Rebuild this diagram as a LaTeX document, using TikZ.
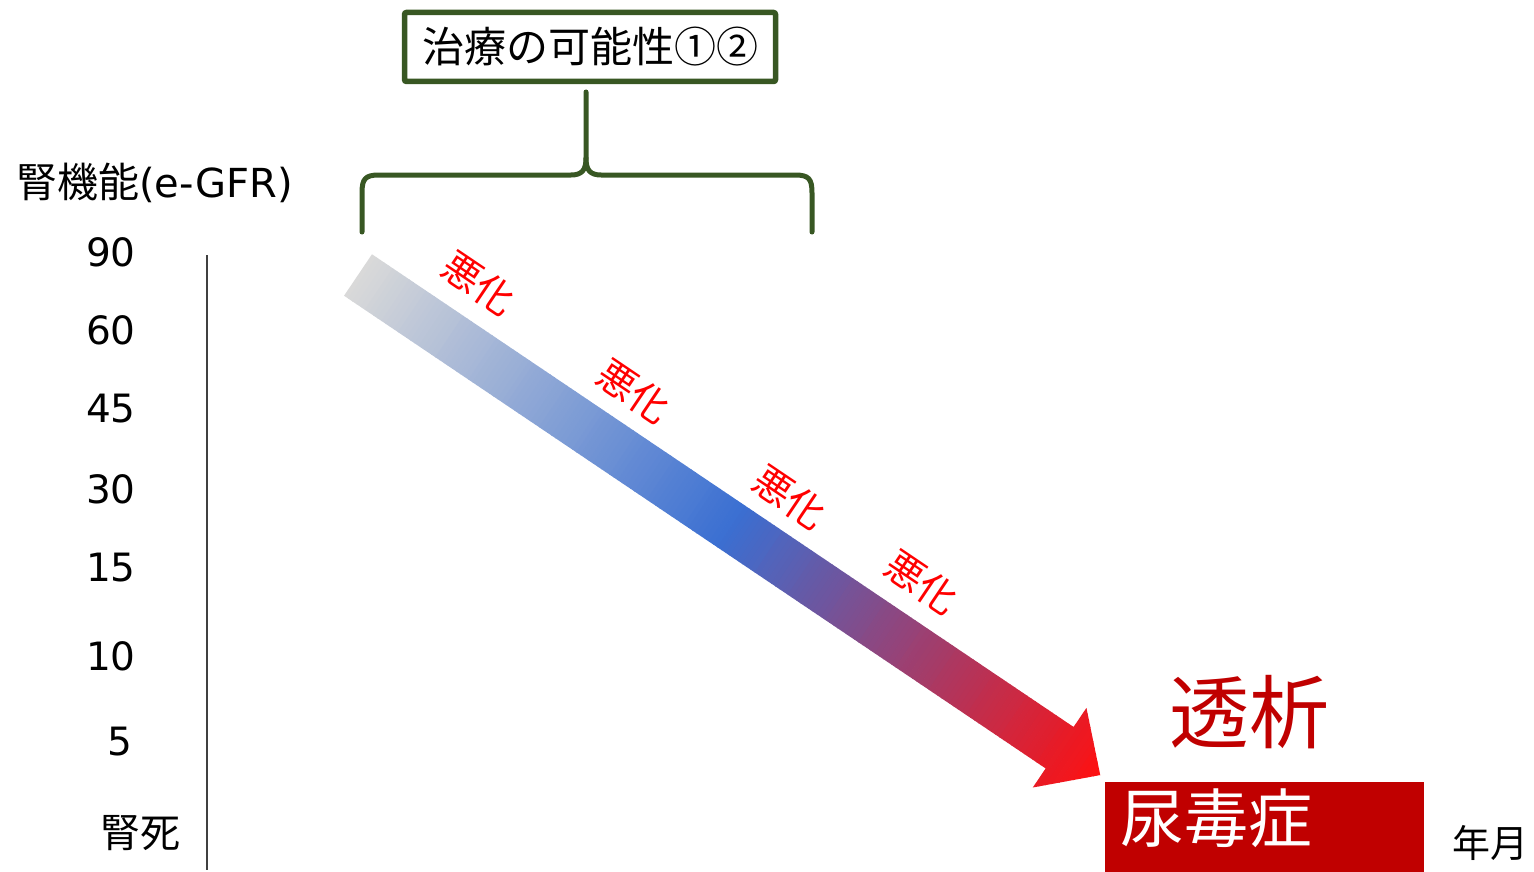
\documentclass[tikz,border=0pt]{standalone}
\usepackage{fontspec}
\setmainfont{DejaVu Sans}
\newfontfamily\cjk{Noto Sans CJK JP}
\definecolor{bracegreen}{HTML}{385723}
\definecolor{ag}{HTML}{D9D9D9}
\definecolor{ab}{HTML}{3A6FD2}
\definecolor{ar}{HTML}{FF1010}
\definecolor{darkred}{HTML}{C00000}
\definecolor{worse}{HTML}{FF0000}
\newcommand{\fsz}[1]{\fontsize{#1}{#1}\selectfont}
\begin{document}
\begin{tikzpicture}[x=1pt,y=-1pt,
  bracestyle/.style={draw=bracegreen,line width=5pt,line cap=round,line join=round},
  ticklabel/.style={anchor=east,inner sep=0pt,font=\fsz{39}},
  worselabel/.style={text=worse,rotate=-34,inner sep=0pt,font=\cjk\fsz{39}},
  cjklabel/.style={inner sep=0pt,font=\cjk\fsz{40}}]
\useasboundingbox (0,0) rectangle (1534,872);

% top box
\node[draw=bracegreen,line width=5.5pt,fill=white,rounded corners=2pt,
  minimum width=371pt,minimum height=69pt,inner sep=0pt,font=\cjk\fsz{42}]
  (tbox) at (590,47) {治療の可能性①②};

% brace
\coordinate (btop) at (586,92);
\coordinate (bleft) at (362,232);
\coordinate (bright) at (812,232);
\draw[bracestyle] (bleft) -- (362,193) .. controls (362,179) and (365,175) .. (379,175)
  -- (571,175) .. controls (582,175) and (586,170) .. (586,158) -- (btop);
\draw[bracestyle] (586,158) .. controls (586,170) and (590,175) .. (601,175)
  -- (795,175) .. controls (809,175) and (812,179) .. (812,193) -- (bright);

% y axis
\coordinate (axtop) at (207,255);
\coordinate (axbot) at (207,870);
\draw[line width=1.3pt,draw=black!75] (axtop) -- (axbot);

% axis labels
\node[inner sep=0pt,anchor=west] (ylabel) at (16,183) {{\cjk\fsz{41}腎機能}{\fsz{40}(e-GFR)}};
\node[ticklabel] (t90) at (136,252) {90};
\node[ticklabel] (t60) at (136,330) {60};
\node[ticklabel] (t45) at (136,409) {45};
\node[ticklabel] (t30) at (136,489) {30};
\node[ticklabel] (t15) at (136,568) {15};
\node[ticklabel] (t10) at (136,656) {10};
\node[ticklabel] (t5) at (133,742) {5};
\node[cjklabel] (death) at (140,833) {腎死};

% gradient arrow
\begin{scope}[shift={(358,275)},rotate=-33.97]
  \clip (0,-25) -- (846,-25) -- (846,-48) -- (895,0) -- (846,48) -- (846,25) -- (0,25) -- cycle;
  \foreach \i in {0,...,179}{
    \pgfmathtruncatemacro\pr{round(\i/179*200)}
    \pgfmathtruncatemacro\pa{min(100,\pr)}
    \pgfmathtruncatemacro\pq{100-max(0,\pr-100)}
    \fill[ab!\pa!ag!\pq!ar] (\i*5,-50) rectangle (\i*5+5.6,50);
  }
\end{scope}

% worse labels
\node[worselabel] (w1) at (479,283) {悪化};
\node[worselabel] (w2) at (634,391) {悪化};
\node[worselabel] (w3) at (790,497) {悪化};
\node[worselabel] (w4) at (922,582) {悪化};

% dialysis
\node[inner sep=0pt,text=darkred,font=\cjk\fsz{80}] (dialysis) at (1249,712) {透析};
\node[fill=darkred,minimum width=319pt,minimum height=92pt,inner sep=0pt,anchor=north west]
  (uremiabox) at (1105,782) {};
\node[inner sep=0pt,anchor=west,text=white,font=\cjk\fsz{64}] (uremia) at (1120,818) {尿毒症};

% x label
\node[cjklabel,font=\cjk\fsz{38}] (xlabel) at (1490,843) {年月};
\end{tikzpicture}
\end{document}
